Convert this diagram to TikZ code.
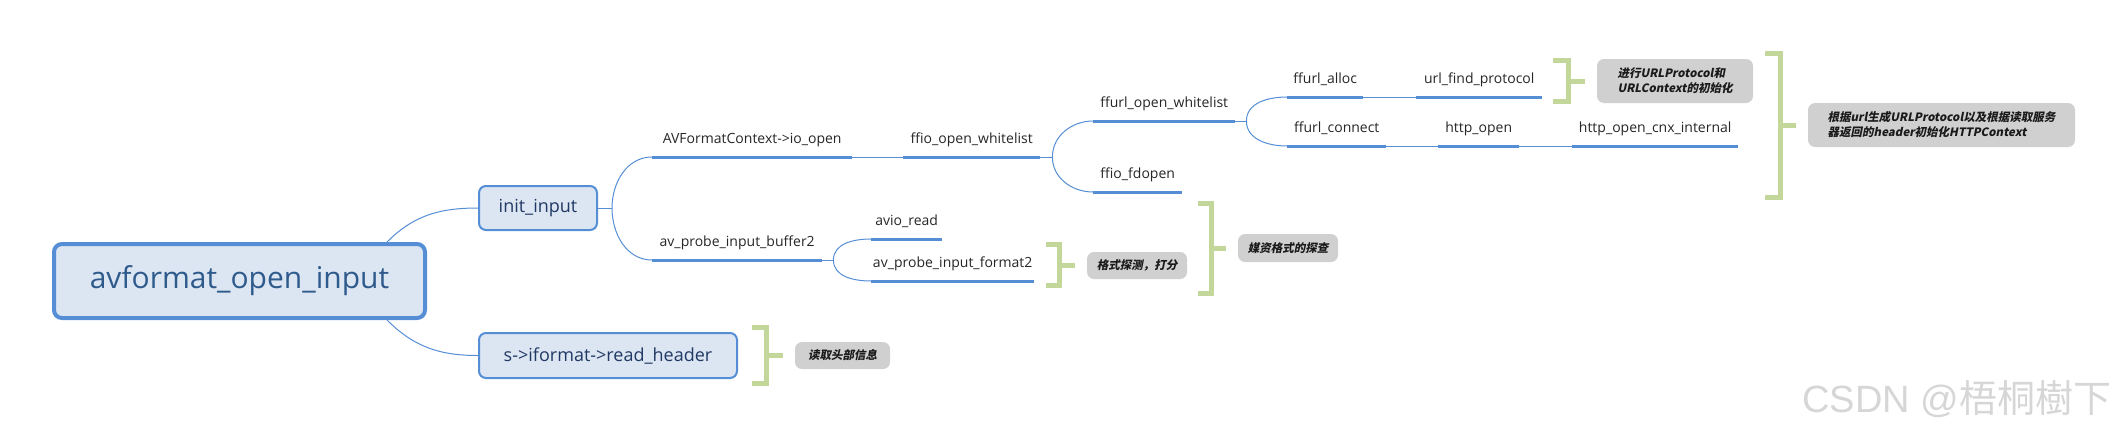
\documentclass[tikz,border=0pt]{standalone}
\usepackage{fontspec}
\setmainfont{Open Sans}[Ligatures={NoCommon}]
\newfontfamily\cjkfont{Noto Sans CJK SC}[BoldFeatures={FakeSlant=0.2}]
\newfontfamily\markfont{Liberation Sans}
\usepackage{xcolor}
\definecolor{vblue}{HTML}{558ED5}
\definecolor{vfill}{HTML}{DCE6F2}
\definecolor{vroottext}{HTML}{2F5A8C}
\definecolor{vboxtext}{HTML}{203864}
\definecolor{vtext}{HTML}{262626}
\definecolor{vgreen}{HTML}{C4D79B}
\definecolor{vgray}{HTML}{D0D0D0}
\definecolor{vnote}{HTML}{1A1A1A}
\definecolor{vmark}{HTML}{D6D6D6}

\begin{document}
\begin{tikzpicture}[x=1pt, y=-1pt,
	link/.style={draw=vblue, line width=1pt},
	uline/.style={draw=vblue, line width=3pt},
	rootbox/.style={draw=vblue, line width=4pt, fill=vfill, rounded corners=8pt, text=vroottext, font=\fontsize{30pt}{36pt}\selectfont},
	subbox/.style={draw=vblue, line width=2pt, fill=vfill, rounded corners=7pt, text=vboxtext, font=\fontsize{18pt}{22pt}\selectfont},
	topic/.style={anchor=south west, text=vtext, font=\fontsize{14pt}{17pt}\selectfont, inner xsep=0pt, inner ysep=9pt, text height=11pt, text depth=4pt,
		append after command={(\tikzlastnode.south west) edge[uline] (\tikzlastnode.south east)}},
	note/.style={fill=vgray, rounded corners=7pt, text=vnote, align=left, inner sep=0pt, font=\cjkfont\bfseries\fontsize{11.5pt}{15pt}\selectfont},
	brace/.style={draw=vgreen, line width=5pt}]
	\useasboundingbox (0,0) rectangle (2126,437);

	% main boxes
	\node[rootbox, minimum width=371pt, minimum height=74pt] (root) at (239.5,281) {avformat\_open\_input};
	\node[subbox, minimum width=118pt, minimum height=44pt] (init) at (538,208) {init\_input};
	\node[subbox, minimum width=258pt, minimum height=45pt] (header) at (608,355.5) {s->iformat->read\_header};

	% call chain
	\node[topic, minimum width=200pt] (ioopen) at (652,157) {AVFormatContext->io\_open};
	\node[topic, minimum width=170pt] (probebuf) at (652,260) {av\_probe\_input\_buffer2};
	\node[topic, minimum width=137pt] (ffioopen) at (903,157) {ffio\_open\_whitelist};
	\node[topic, minimum width=142pt] (ffurlopen) at (1093,121) {ffurl\_open\_whitelist};
	\node[topic, minimum width=89pt] (fdopen) at (1093,192) {ffio\_fdopen};
	\node[topic, minimum width=76pt] (alloc) at (1287,97) {ffurl\_alloc};
	\node[topic, minimum width=126pt] (findproto) at (1416,97) {url\_find\_protocol};
	\node[topic, minimum width=99pt] (connect) at (1287,146) {ffurl\_connect};
	\node[topic, minimum width=81pt] (httpopen) at (1438,146) {http\_open};
	\node[topic, minimum width=166pt] (cnx) at (1572,146) {http\_open\_cnx\_internal};
	\node[topic, minimum width=71pt] (avioread) at (871,239) {avio\_read};
	\node[topic, minimum width=163pt] (probefmt) at (871,281) {av\_probe\_input\_format2};

	\draw[link] ([xshift=-40pt]root.north east) to[out=45,in=180] (init.west);
	\draw[link] ([xshift=-40pt]root.south east) to[out=-45,in=180] (header.west);
	\draw[link] (init.east) -- ++(14,0) coordinate (initfork);
	\draw[link] (initfork) to[out=90,in=180] (ioopen.south west);
	\draw[link] (initfork) to[out=-90,in=180] (probebuf.south west);
	\draw[link] (ioopen.south east) -- (ffioopen.south west);
	\draw[link] (ffioopen.south east) -- ++(12,0) coordinate (ffiofork);
	\draw[link] (ffiofork) to[out=90,in=180] (ffurlopen.south west);
	\draw[link] (ffiofork) to[out=-90,in=180] (fdopen.south west);
	\draw[link] (ffurlopen.south east) -- ++(11,0) coordinate (urlfork);
	\draw[link] (urlfork) to[out=90,in=180] (alloc.south west);
	\draw[link] (urlfork) to[out=-90,in=180] (connect.south west);
	\draw[link] (alloc.south east) -- (findproto.south west);
	\draw[link] (connect.south east) -- (httpopen.south west);
	\draw[link] (httpopen.south east) -- (cnx.south west);
	\draw[link] (probebuf.south east) -- ++(11,0) coordinate (probefork);
	\draw[link] (probefork) to[out=90,in=180] (avioread.south west);
	\draw[link] (probefork) to[out=-90,in=180] (probefmt.south west);

	% summaries
	\node[note, minimum width=156pt, minimum height=44pt] (protonote) at (1675,81) {进行URLProtocol和\\URLContext的初始化};
	\node[note, minimum width=267pt, minimum height=44pt] (httpnote) at (1941.5,125) {根据url生成URLProtocol以及根据读取服务\\器返回的header初始化HTTPContext};
	\node[note, minimum width=100pt, minimum height=27pt] (scorenote) at (1137,265.5) {格式探测，打分};
	\node[note, minimum width=100pt, minimum height=28pt] (probenote) at (1288,248) {媒资格式的探查};
	\node[note, minimum width=95pt, minimum height=27pt] (headnote) at (842.5,355.5) {读取头部信息};

	\draw[brace] (1553,60.5) -| (1568.5,101.5) -- (1553,101.5);
	\draw[brace] (1568.5,81) -- ([xshift=-12pt]protonote.west);
	\draw[brace] (1765,53.5) -| (1780.5,197.5) -- (1765,197.5);
	\draw[brace] (1780.5,125) -- ([xshift=-12pt]httpnote.west);
	\draw[brace] (1046,244.5) -| (1059.5,285.5) -- (1046,285.5);
	\draw[brace] (1059.5,265.5) -- ([xshift=-12pt]scorenote.west);
	\draw[brace] (1198,203.5) -| (1211.5,293.5) -- (1198,293.5);
	\draw[brace] (1211.5,248) -- ([xshift=-12pt]probenote.west);
	\draw[brace] (752,327.5) -| (766.5,383.5) -- (752,383.5);
	\draw[brace] (766.5,355.5) -- ([xshift=-12pt]headnote.west);

	\node[anchor=base west, inner sep=0pt, text=vmark, font=\fontsize{38pt}{44pt}\selectfont] (mark) at (1802,412) {\markfont CSDN @\cjkfont 梧桐樹下};
\end{tikzpicture}
\end{document}
